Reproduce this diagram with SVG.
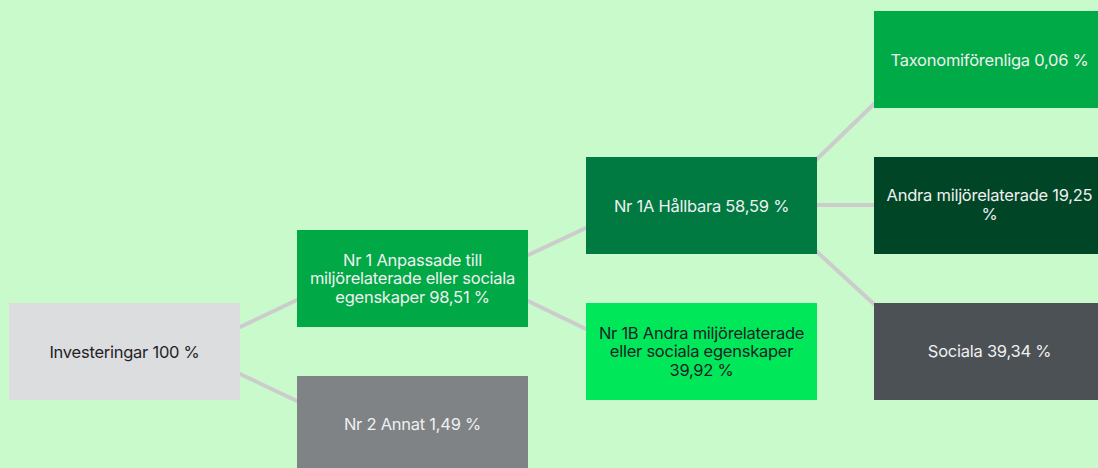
<svg xmlns="http://www.w3.org/2000/svg" width="1098" height="468" viewBox="0 0 1098 468">
<style>
.bg{fill:#C8FACC}
.lt{font-family:Inter,"Liberation Sans",sans-serif;font-size:16.5px;text-anchor:middle;letter-spacing:-0.25px}
.w{fill:#F0F0F0}
.d{fill:#1F2326}
.c{stroke:#CCCCCC;stroke-width:4;fill:none}
</style>
<rect class="bg" x="0" y="0" width="1098" height="468"/>
<g id="connectors">
<line class="c" x1="238" y1="328" x2="299" y2="299"/>
<line class="c" x1="238" y1="373" x2="299" y2="402"/>
<line class="c" x1="526" y1="256" x2="588" y2="227"/>
<line class="c" x1="526" y1="300" x2="588" y2="330"/>
<line class="c" x1="815" y1="161" x2="876" y2="102"/>
<line class="c" x1="815" y1="205" x2="876" y2="205"/>
<line class="c" x1="815" y1="250" x2="876" y2="306"/>
</g>
<g id="investeringar">
<rect x="9" y="303" width="231" height="97" fill="#DCDDDE"/>
<text class="lt d" x="124.5" y="357.5">Investeringar 100 %</text>
</g>
<g id="nr1">
<rect x="297" y="230" width="231" height="97" fill="#00A846"/>
<text class="lt w" x="412.5" y="265.5">Nr 1 Anpassade till</text>
<text class="lt w" x="412.5" y="284">miljörelaterade eller sociala</text>
<text class="lt w" x="412.5" y="302.5">egenskaper 98,51 %</text>
</g>
<g id="nr2">
<rect x="297" y="376" width="231" height="97" fill="#7F8386"/>
<text class="lt w" x="412.5" y="429.5">Nr 2 Annat 1,49 %</text>
</g>
<g id="nr1a">
<rect x="586" y="157" width="231" height="97" fill="#007A41"/>
<text class="lt w" x="701.5" y="211.5">Nr 1A Hållbara 58,59 %</text>
</g>
<g id="nr1b">
<rect x="586" y="303" width="231" height="97" fill="#00E85A"/>
<text class="lt d" x="701.5" y="338.5">Nr 1B Andra miljörelaterade</text>
<text class="lt d" x="701.5" y="357">eller sociala egenskaper</text>
<text class="lt d" x="701.5" y="375.5">39,92 %</text>
</g>
<g id="taxonomi">
<rect x="874" y="11" width="231" height="97" fill="#00AA46"/>
<text class="lt w" x="989.5" y="65.5">Taxonomiförenliga 0,06 %</text>
</g>
<g id="andra">
<rect x="874" y="157" width="231" height="97" fill="#004526"/>
<text class="lt w" x="989.5" y="201">Andra miljörelaterade 19,25</text>
<text class="lt w" x="989.5" y="219.5">%</text>
</g>
<g id="sociala">
<rect x="874" y="303" width="231" height="97" fill="#4C5155"/>
<text class="lt w" x="989.5" y="356.5">Sociala 39,34 %</text>
</g>
</svg>
